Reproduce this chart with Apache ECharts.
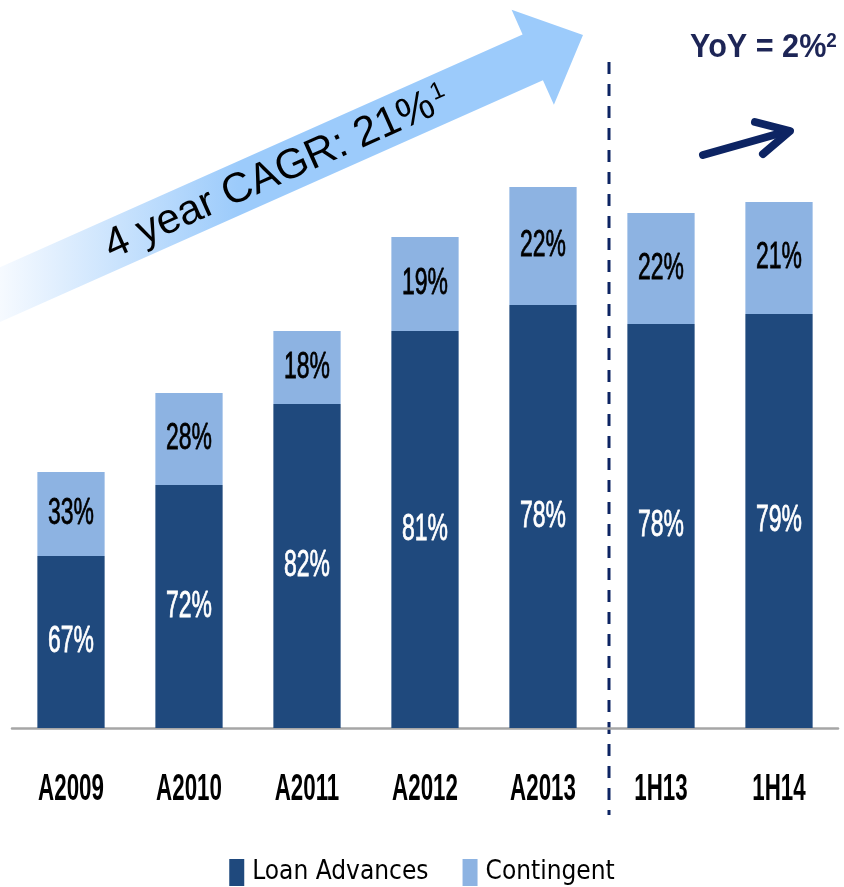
<!DOCTYPE html>
<html>
<head>
<meta charset="utf-8">
<script src="https://cdn.jsdelivr.net/npm/echarts@6/dist/echarts.min.js"></script>
<style>
  html, body { margin: 0; padding: 0; background: #fff; }
  #chart { width: 844px; height: 887px; }
</style>
</head>
<body>
<div id="chart"></div>
<script>
const categories = ['A2009', 'A2010', 'A2011', 'A2012', 'A2013', '1H13', '1H14']
// bar heights (no value axis shown, relative units)
const loanAdvances = [17.2, 24.3, 32.4, 39.7, 42.3, 40.4, 41.4]
const contingent = [8.4, 9.2, 7.3, 9.4, 11.8, 11.1, 11.2]
// share labels printed inside the bars
const loanShare = ['67%', '72%', '82%', '81%', '78%', '78%', '79%']
const contingentShare = ['33%', '28%', '18%', '19%', '22%', '22%', '21%']

const NARROW = "'DejaVu Sans Condensed', 'Liberation Sans Narrow', sans-serif"
const SANS = "'Liberation Sans', Arial, sans-serif"
const DARK = '#1f497d'
const LIGHT = '#8db3e2'
const NAVY = '#0d2463'

const chart = echarts.init(document.getElementById('chart'))

// big CAGR arrow, built along a 24 degree axis
const ang = 24 * Math.PI / 180
const u = [Math.cos(ang), -Math.sin(ang)]
const n = [Math.sin(ang), Math.cos(ang)]
const tip = [583, 35]
const headLen = 55, headHalf = 52, shaftHalf = 25, shaftLen = 620
const back = [tip[0] - headLen * u[0], tip[1] - headLen * u[1]]
const start = [back[0] - shaftLen * u[0], back[1] - shaftLen * u[1]]
const off = (p, k) => [p[0] + k * n[0], p[1] + k * n[1]]
const arrowPts = [
  off(start, -shaftHalf), off(back, -shaftHalf), off(back, -headHalf),
  tip,
  off(back, headHalf), off(back, shaftHalf), off(start, shaftHalf),
]

// the original uses a tall condensed face, so labels are squeezed horizontally
function squeezed(p, text, fill, size, weight, sx) {
  return {
    type: 'text',
    x: p[0],
    y: p[1],
    scaleX: sx,
    style: {
      text, fill,
      fontSize: size,
      fontWeight: weight,
      fontFamily: SANS,
      align: 'center',
      verticalAlign: 'middle',
      stroke: weight === 'bold' ? null : fill,
      lineWidth: 0.8,
    },
  }
}

function renderLabels(params, api) {
  const i = api.value(0)
  const loan = api.value(1)
  const cont = api.value(2)
  const pLoan = api.coord([i, loan / 2])
  const pCont = api.coord([i, loan + cont / 2])
  const pAxis = api.coord([i, 0])
  return {
    type: 'group',
    children: [
      squeezed(pLoan, loanShare[params.dataIndex], '#fff', 37, 'normal', 0.62),
      squeezed(pCont, contingentShare[params.dataIndex], '#000', 37, 'normal', 0.62),
      squeezed([pAxis[0], pAxis[1] + 62], categories[params.dataIndex], '#000', 36, 'bold', 0.62),
    ],
  }
}

chart.setOption({
  animation: false,
  grid: { left: 12, right: 6, top: 128, bottom: 159 },
  legend: {
    top: 854,
    left: 'center',
    icon: 'rect',
    itemWidth: 15,
    itemHeight: 27,
    itemGap: 34,
    textStyle: { fontSize: 26, color: '#000', fontFamily: NARROW, padding: [0, 0, 0, 3] },
    data: ['Loan Advances', 'Contingent'],
  },
  xAxis: {
    type: 'category',
    data: categories,
    axisLine: { lineStyle: { color: '#a6a6a6', width: 2.5 } },
    axisTick: { show: false },
    axisLabel: { show: false },
  },
  yAxis: { type: 'value', show: false, min: 0, max: 60 },
  series: [
    {
      name: 'Loan Advances',
      type: 'bar',
      stack: 'total',
      barWidth: '57%',
      data: loanAdvances,
      itemStyle: { color: DARK },
    },
    {
      name: 'Contingent',
      type: 'bar',
      stack: 'total',
      data: contingent,
      itemStyle: { color: LIGHT },
    },
    {
      type: 'custom',
      z: 5,
      clip: false,
      silent: true,
      renderItem: renderLabels,
      encode: { x: 0, y: 1 },
      data: categories.map((c, i) => [i, loanAdvances[i], contingent[i]]),
    },
  ],
  graphic: [
    {
      type: 'polygon',
      z: 1,
      shape: { points: arrowPts },
      style: {
        fill: new echarts.graphic.LinearGradient(0, 0, 1, 0, [
          { offset: 0, color: '#ffffff' },
          { offset: 0.07, color: '#f6faff' },
          { offset: 0.45, color: '#9ccbfb' },
          { offset: 1, color: '#9ccbfb' },
        ]),
      },
    },
    {
      type: 'text',
      z: 2,
      x: 277,
      y: 173,
      rotation: ang,
      style: {
        text: '4 year CAGR: 21%{sup|1}',
        fontSize: 42,
        fontFamily: SANS,
        fill: '#000',
        align: 'center',
        verticalAlign: 'middle',
        rich: { sup: { fontSize: 24, fontFamily: SANS, verticalAlign: 'top', padding: [0, 0, 14, 2] } },
      },
    },
    // half-year divider
    {
      type: 'line',
      shape: { x1: 609, y1: 62, x2: 609, y2: 815 },
      style: { stroke: NAVY, lineWidth: 3, lineDash: [12, 10] },
    },
    {
      type: 'text',
      x: 690,
      y: 48,
      scaleX: 0.9,
      style: {
        text: 'YoY = 2%{sup|2}',
        fontSize: 34,
        fontWeight: 'bold',
        fontFamily: SANS,
        fill: '#1d2556',
        verticalAlign: 'middle',
        rich: { sup: { fontSize: 21, fontWeight: 'bold', fontFamily: SANS, fill: '#1d2556', verticalAlign: 'top', padding: [0, 0, 12, 0] } },
      },
    },
    {
      type: 'polyline',
      shape: { points: [[703, 155], [788, 131]] },
      style: { stroke: NAVY, lineWidth: 8, lineCap: 'round' },
    },
    {
      type: 'polyline',
      shape: { points: [[755, 122], [790, 131], [763, 154]] },
      style: { stroke: NAVY, lineWidth: 8, lineCap: 'round', lineJoin: 'round', fill: null },
    },
  ],
})
</script>
</body>
</html>
